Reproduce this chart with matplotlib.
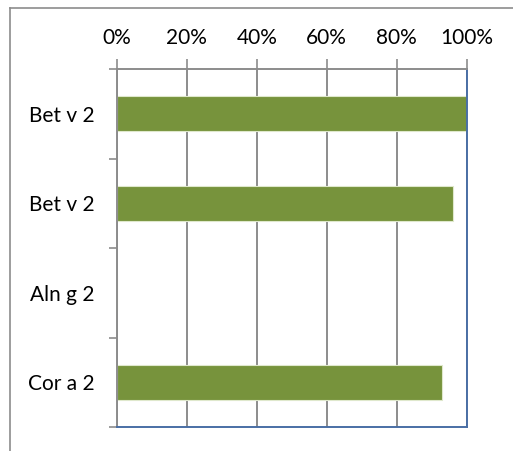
import matplotlib.pyplot as plt
from matplotlib.lines import Line2D
import numpy as np

allergens = ["Bet v 2", "Bet v 2", "Aln g 2", "Cor a 2"]
shares = [1.00, 0.96, 0.0, 0.93]
pct_ticks = [0, 0.2, 0.4, 0.6, 0.8, 1.0]
pct_labels = ["0%", "20%", "40%", "60%", "80%", "100%"]

W, H = 513, 451
fig = plt.figure(figsize=(W / 100, H / 100), dpi=100)
plt.rcParams['font.family'] = ['Lato', 'DejaVu Sans']

# chart frame (left and top edges only show)
fig.add_artist(Line2D([10 / W, 10 / W], [0, 1 - 8 / H], color="#8c8c8c", lw=1.2))
fig.add_artist(Line2D([10 / W, 1], [1 - 8 / H, 1 - 8 / H], color="#8c8c8c", lw=1.2))

ax = fig.add_axes([117 / W, 1 - 427 / H, (466.5 - 117) / W, (427 - 69) / H])

pos = np.arange(len(allergens))
ax.barh(pos, shares, height=0.39, color="#77933C", edgecolor="#dfe8cc", lw=0.8, zorder=2)

ax.set_xlim(0, 1)
ax.set_ylim(len(allergens) - 0.5, -0.5)

ax.xaxis.tick_top()
ax.set_xticks(pct_ticks)
ax.set_xticklabels(pct_labels, fontsize=15)
ax.tick_params(axis="x", direction="out", length=7, width=1.2, color="#8c8c8c", pad=8)
ax.grid(axis="x", color="#8c8c8c", lw=1.4, zorder=1)

ax.set_yticks(pos)
ax.set_yticklabels(allergens, fontsize=15)
ax.set_yticks(np.arange(-0.5, len(allergens)), minor=True)
ax.tick_params(axis="y", which="major", length=0, pad=16)
ax.tick_params(axis="y", which="minor", direction="out", length=6, width=1.2, color="#8c8c8c")

for s in ["left", "top"]:
    ax.spines[s].set_color("#8c8c8c")
    ax.spines[s].set_linewidth(1.4)
for s in ["right", "bottom"]:
    ax.spines[s].set_color("#4a6fa5")
    ax.spines[s].set_linewidth(1.4)

fig.savefig("out.png", dpi=100)
